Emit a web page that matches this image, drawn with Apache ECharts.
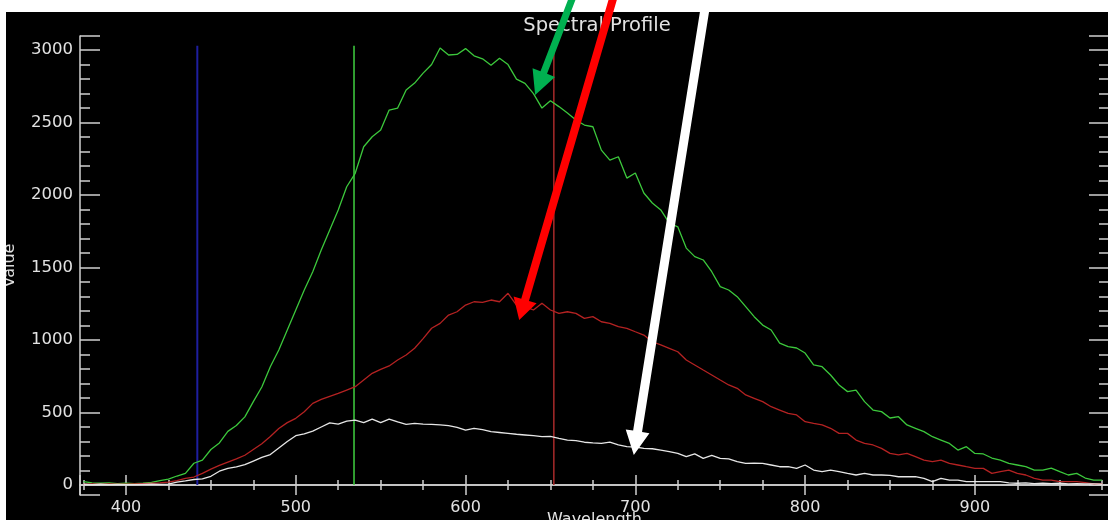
<!DOCTYPE html>
<html>
<head>
<meta charset="utf-8">
<script src="https://cdn.jsdelivr.net/npm/echarts@6/dist/echarts.min.js"></script>
<style>
html,body{margin:0;padding:0;background:#fff;}
#chart{width:1108px;height:520px;}
</style>
</head>
<body>
<div id="chart"></div>
<script>
// ---- data ----
const wavelengths = [
  375,380,385,390,395,400,405,410,415,420,425,430,435,440,445,450,455,460,465,470,
  475,480,485,490,495,500,505,510,515,520,525,530,535,540,545,550,555,560,565,570,
  575,580,585,590,595,600,605,610,615,620,625,630,635,640,645,650,655,660,665,670,
  675,680,685,690,695,700,705,710,715,720,725,730,735,740,745,750,755,760,765,770,
  775,780,785,790,795,800,805,810,815,820,825,830,835,840,845,850,855,860,865,870,
  875,880,885,890,895,900,905,910,915,920,925,930,935,940,945,950,955,960,965,970,
  975
];
const greenValues = [
  23,15,12,14,10,12,10,12,18,30,40,62,80,150,172,245,290,370,410,470,
  575,676,816,931,1069,1207,1345,1471,1621,1759,1897,2057,2150,2333,2402,2448,2586,2600,2724,2772,
  2841,2900,3014,2966,2970,3010,2960,2940,2895,2943,2900,2800,2770,2700,2600,2650,2610,2566,2517,2483,
  2471,2310,2241,2264,2117,2152,2014,1945,1897,1807,1781,1634,1575,1552,1471,1368,1345,1299,1230,1161,
  1103,1069,979,954,945,910,828,816,759,690,644,655,575,517,506,462,471,414,391,368,
  333,310,287,241,264,218,214,186,172,149,138,126,103,103,117,92,69,80,48,34,
  34
];
const redValues = [
  5,8,5,8,6,5,8,10,12,15,20,30,45,55,80,110,135,158,180,205,
  245,285,335,390,430,460,505,563,590,612,632,655,678,724,770,798,821,862,897,943,
  1010,1081,1115,1172,1195,1241,1264,1260,1276,1264,1322,1241,1230,1207,1253,1207,1184,1195,1184,1149,
  1161,1126,1115,1092,1081,1057,1034,988,966,943,919,862,828,793,759,724,690,667,621,598,
  575,540,517,494,483,437,425,414,391,356,356,310,287,276,253,218,207,218,195,172,
  161,172,149,138,126,115,115,80,92,103,80,69,46,34,34,23,23,23,16,7,
  7
];
const whiteValues = [
  5,3,5,2,4,3,2,4,5,4,6,20,28,38,42,60,95,115,125,140,
  165,190,210,255,300,340,352,372,400,428,420,440,448,430,455,430,455,435,418,425,
  420,418,414,410,398,379,390,382,368,362,356,350,345,340,333,335,322,310,306,295,
  290,287,295,276,264,262,253,250,241,230,218,195,215,184,205,184,180,161,149,150,
  149,138,126,126,115,138,103,92,103,92,80,69,80,69,69,66,57,57,57,46,
  23,46,34,34,23,23,23,23,23,15,12,15,10,12,10,12,8,10,8,8,
  5
];
// band marker lines (wavelength) and their height
const bandNames = ['Blue', 'Green', 'Red'];
const bandWavelengths = [442, 534.3, 652];
const bandTop = 3030;
// annotation arrows: [tailWavelength, tailValue, tipWavelength, tipValue]
const arrows = [
  [664.3, 3400, 641.0, 2690],
  [688.0, 3400, 631.6, 1138],
  [742.6, 3400, 699.1, 207]
];
const xTickLabels = [400, 500, 600, 700, 800, 900];
const yTickLabels = [0, 500, 1000, 1500, 2000, 2500, 3000];

// ---- styles ----
const curveColors = ['#3cc83c', '#b42222', '#e6e6e6'];
const bandColors = ['#1e1e9e', '#40d040', '#a82a2a'];
const bandWidths = [2, 1.5, 1.5];
const arrowColors = ['#00b050', '#ff0000', '#ffffff'];
const arrowShaft = [7, 8, 9];
const arrowHeadLen = [24, 21, 24];
const arrowHeadHalf = [12, 12, 12];
const axisColor = '#d0d0d0';
const textColor = '#e2e2e2';
const fontFam = 'DejaVu Sans';

function pairs(xs, ys) { return xs.map((x, i) => [x, ys[i]]); }

const chart = echarts.init(document.getElementById('chart'), null, {renderer: 'canvas'});

const baseX = {
  type: 'value', min: 372.9, max: 979,
  splitLine: {show: false},
  axisLine: {show: true, lineStyle: {color: axisColor, width: 1.5}},
  axisTick: {show: true, inside: true, length: 10, lineStyle: {color: axisColor, width: 1.5}},
  minorTick: {show: true, splitNumber: 4, length: 5, lineStyle: {color: axisColor, width: 1.5}}
};
const baseY = {
  type: 'value', min: -69, max: 3097,
  splitLine: {show: false},
  axisLine: {show: true, lineStyle: {color: axisColor, width: 1.5}},
  axisTick: {show: true, inside: true, length: 20, lineStyle: {color: axisColor, width: 1.5}},
  minorTick: {show: true, splitNumber: 5, length: 10, lineStyle: {color: axisColor, width: 1.5}}
};

const series = [];
const curveNames = ['Green', 'Red', 'White'];
[greenValues, redValues, whiteValues].forEach((vals, i) => {
  series.push({
    name: curveNames[i], type: 'line', data: pairs(wavelengths, vals),
    showSymbol: false, symbol: 'none', smooth: false,
    lineStyle: {color: curveColors[i], width: 1.3}, z: 3
  });
});
bandWavelengths.forEach((w, i) => {
  series.push({
    name: bandNames[i] + ' band', type: 'line', data: [[w, 0], [w, bandTop]],
    showSymbol: false, symbol: 'none',
    lineStyle: {color: bandColors[i], width: bandWidths[i]}, z: 2
  });
});
series.push({
  type: 'custom', clip: false, z: 100, silent: true,
  data: arrows,
  renderItem: function (params, api) {
    const i = params.dataIndex;
    const p1 = api.coord([api.value(0), api.value(1)]);
    const p2 = api.coord([api.value(2), api.value(3)]);
    const dx = p2[0] - p1[0], dy = p2[1] - p1[1];
    const len = Math.hypot(dx, dy);
    const ux = dx / len, uy = dy / len, nx = -uy, ny = ux;
    const hw = arrowShaft[i] / 2, hl = arrowHeadLen[i], hh = arrowHeadHalf[i];
    const bx = p2[0] - ux * hl, by = p2[1] - uy * hl;
    const pts = [
      [p1[0] + nx * hw, p1[1] + ny * hw],
      [bx + nx * hw, by + ny * hw],
      [bx + nx * hh, by + ny * hh],
      [p2[0], p2[1]],
      [bx - nx * hh, by - ny * hh],
      [bx - nx * hw, by - ny * hw],
      [p1[0] - nx * hw, p1[1] - ny * hw]
    ];
    return {type: 'polygon', shape: {points: pts}, style: {fill: arrowColors[i]}};
  }
});

chart.setOption({
  backgroundColor: '#000',
  animation: false,
  title: {
    text: 'Spectral Profile', left: 592, top: 11, textAlign: 'center',
    textStyle: {color: textColor, fontFamily: fontFam, fontSize: 19.5, fontWeight: 'normal'}
  },
  grid: {left: 80, right: -1, top: 36, bottom: 25, containLabel: false, outerBoundsMode: 'none'},
  xAxis: [
    Object.assign({}, baseX, {
      position: 'bottom',
      name: 'Wavelength', nameLocation: 'middle', nameGap: 17, nameMoveOverlap: false,
      nameTextStyle: {color: textColor, fontFamily: fontFam, fontSize: 16, verticalAlign: 'top'},
      axisLabel: {
        color: textColor, fontFamily: fontFam, fontSize: 16, margin: 5,
        showMinLabel: false, showMaxLabel: false,
        formatter: v => (xTickLabels.indexOf(v) >= 0 ? String(v) : '')
      }
    }),
    Object.assign({}, baseX, {position: 'top', axisLabel: {show: false}})
  ],
  yAxis: [
    Object.assign({}, baseY, {
      position: 'left',
      name: 'Value', nameLocation: 'middle', nameGap: 62, nameMoveOverlap: false,
      nameTextStyle: {color: textColor, fontFamily: fontFam, fontSize: 16},
      axisLabel: {
        color: textColor, fontFamily: fontFam, fontSize: 16.5, margin: 7,
        showMinLabel: false, showMaxLabel: false,
        formatter: v => (yTickLabels.indexOf(v) >= 0 ? String(v) : '')
      }
    }),
    Object.assign({}, baseY, {position: 'right', axisLabel: {show: false}})
  ],
  graphic: [
    {type: 'rect', left: 0, top: 0, shape: {width: 1108, height: 12}, style: {fill: '#fff'}, z: 50},
    {type: 'rect', left: 0, top: 0, shape: {width: 6, height: 520}, style: {fill: '#fff'}, z: 50}
  ],
  series: series
});
</script>
</body>
</html>
